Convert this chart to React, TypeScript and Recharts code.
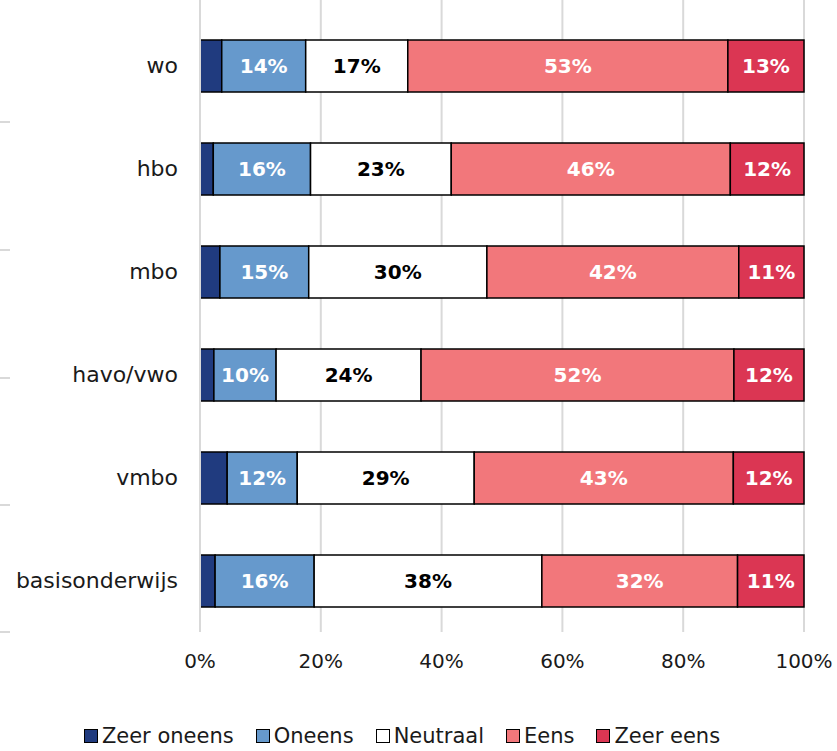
import React from "react";
import {
  Bar,
  BarChart,
  CartesianGrid,
  LabelList,
  Legend,
  XAxis,
  YAxis,
} from "recharts";

const categories = ["wo", "hbo", "mbo", "havo/vwo", "vmbo", "basisonderwijs"];
const zeerOneens = [3.6, 2.2, 3.3, 2.3, 4.5, 2.5];
const oneens = [13.9, 16.1, 14.7, 10.3, 11.6, 16.4];
const neutraal = [16.9, 23.3, 29.5, 24.0, 29.3, 37.7];
const eens = [53.0, 46.2, 41.7, 51.8, 42.9, 32.4];
const zeerEens = [12.6, 12.2, 10.8, 11.6, 11.7, 11.0];
const xTicks = [0, 20, 40, 60, 80, 100];

const series = [
  { key: "zeerOneens", name: "Zeer oneens", color: "#203B7F", label: "" },
  { key: "oneens", name: "Oneens", color: "#6699CC", label: "#ffffff" },
  { key: "neutraal", name: "Neutraal", color: "#ffffff", label: "#000000" },
  { key: "eens", name: "Eens", color: "#F2777B", label: "#ffffff" },
  { key: "zeerEens", name: "Zeer eens", color: "#DB3653", label: "#ffffff" },
];

const data = categories.map((name, i) => ({
  name,
  zeerOneens: zeerOneens[i],
  oneens: oneens[i],
  neutraal: neutraal[i],
  eens: eens[i],
  zeerEens: zeerEens[i],
}));

const FONT = "'DejaVu Sans', sans-serif";

function LegendContent() {
  return (
    <div
      style={{
        display: "flex",
        justifyContent: "center",
        gap: 22,
        fontFamily: FONT,
        fontSize: 21,
        color: "#1a1a1a",
      }}
    >
      {series.map((s) => (
        <span key={s.key} style={{ display: "flex", alignItems: "center" }}>
          <span
            style={{
              display: "inline-block",
              width: 12,
              height: 12,
              background: s.color,
              border: "1.5px solid #000",
              marginRight: 4,
            }}
          />
          {s.name}
        </span>
      ))}
    </div>
  );
}

export default function App() {
  return (
    <div style={{ position: "absolute", left: 0, top: 0, width: 837, height: 751, background: "#fff", overflow: "hidden" }}>
      <svg width={12} height={640} style={{ position: "absolute", left: 0, top: 0 }}>
        {[122, 250, 378, 505, 632].map((y) => (
          <line key={y} x1={0} x2={10} y1={y} y2={y} stroke="#D9D9D9" strokeWidth={2} />
        ))}
      </svg>
      <BarChart
        width={837}
        height={751}
        data={data}
        layout="vertical"
        barSize={52}
        margin={{ top: 0, right: 33, left: 0, bottom: 0 }}
      >
        <CartesianGrid horizontal={false} stroke="#D9D9D9" strokeWidth={2} />
        <XAxis
          type="number"
          domain={[0, 100]}
          ticks={xTicks}
          tickFormatter={(v) => `${v}%`}
          axisLine={false}
          tickLine={false}
          tickSize={0}
          tickMargin={22}
          height={52}
          tick={{ fill: "#1a1a1a", fontSize: 20, fontFamily: FONT }}
        />
        <YAxis
          type="category"
          dataKey="name"
          width={200}
          padding={{ top: 14, bottom: 0 }}
          axisLine={{ stroke: "#D9D9D9", strokeWidth: 2 }}
          tickLine={false}
          tickSize={0}
          tickMargin={22}
          tick={{ fill: "#1a1a1a", fontSize: 22, fontFamily: FONT }}
        />
        <Legend verticalAlign="bottom" height={67} content={<LegendContent />} wrapperStyle={{ top: 724 }} />
        {series.map((s) => (
          <Bar
            key={s.key}
            dataKey={s.key}
            stackId="a"
            fill={s.color}
            stroke="#000"
            strokeWidth={1.5}
            isAnimationActive={false}
          >
            {s.label ? (
              <LabelList
                dataKey={s.key}
                position="center"
                formatter={(v: number) => `${Math.round(v)}%`}
                fill={s.label}
                style={{ fontFamily: FONT, fontSize: 20, fontWeight: "bold" }}
              />
            ) : null}
          </Bar>
        ))}
      </BarChart>
    </div>
  );
}
